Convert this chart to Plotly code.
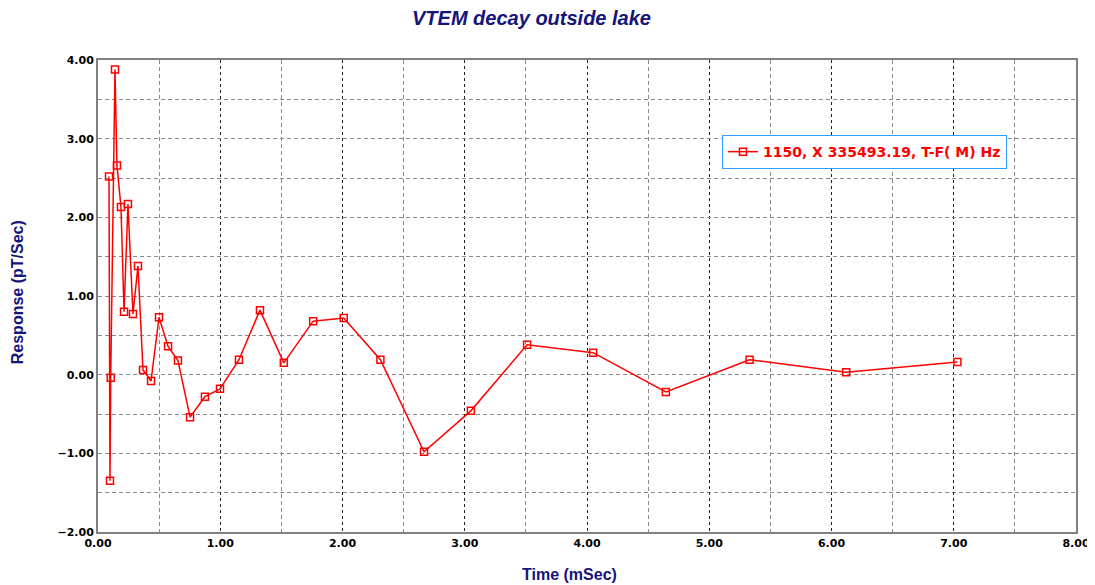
import plotly.graph_objects as go

time_ms = [0.090, 0.098, 0.104, 0.139, 0.155, 0.188, 0.213, 0.245, 0.286, 0.327,
           0.368, 0.434, 0.499, 0.573, 0.654, 0.753, 0.875, 0.998, 1.153, 1.325,
           1.520, 1.760, 2.010, 2.310, 2.667, 3.050, 3.510, 4.050, 4.645, 5.330,
           6.120, 7.030]
response = [2.52, -1.35, -0.04, 3.88, 2.66, 2.13, 0.80, 2.17, 0.77, 1.38,
            0.06, -0.08, 0.73, 0.36, 0.18, -0.54, -0.28, -0.18, 0.19, 0.82,
            0.15, 0.68, 0.72, 0.19, -0.98, -0.46, 0.38, 0.28, -0.22, 0.19,
            0.03, 0.16]
series_name = "1150, X 335493.19, T-F( M) Hz"
title_text = "VTEM decay outside lake"
x_title = "Time (mSec)"
y_title = "Response (pT/Sec)"

navy = "#14147a"
red = "#ff0000"
gray_grid = "#8a8a8a"
dark_grid = "#222222"

fig = go.Figure()
fig.add_trace(go.Scatter(
    x=time_ms, y=response, mode="lines+markers", name=series_name,
    line=dict(color=red, width=1.5),
    marker=dict(symbol="square-open", size=7, color=red, line=dict(width=1.5, color=red)),
))

tickfont = dict(family="DejaVu Sans, Verdana", size=11, color="black", weight="bold")

fig.update_layout(
    width=1087, height=577,
    margin=dict(l=90, r=19, t=52, b=53, autoexpand=False),
    paper_bgcolor="white", plot_bgcolor="white",
    xaxis=dict(range=[0, 8], dtick=1, tick0=0, tickformat=".2f", ticks="",
               automargin=False,
               showline=True, linecolor="#808080", linewidth=2, mirror=True,
               showgrid=True, gridcolor=dark_grid, griddash="3px,3px", gridwidth=1,
               zeroline=False, tickfont=tickfont,
               minor=dict(dtick=0.5, showgrid=True, gridcolor=gray_grid,
                          griddash="4px,3px", gridwidth=1)),
    yaxis=dict(range=[-2, 4], dtick=1, tick0=0, tickformat=".2f", ticks="",
               automargin=False,
               showline=True, linecolor="#808080", linewidth=2, mirror=True,
               showgrid=True, gridcolor=gray_grid, griddash="4px,3px", gridwidth=1,
               zeroline=False, tickfont=tickfont,
               minor=dict(dtick=0.5, showgrid=True, gridcolor=gray_grid,
                          griddash="4px,3px", gridwidth=1)),
    showlegend=True,
    legend=dict(x=0.638, y=0.841, xanchor="left", yanchor="top",
                bgcolor="white", bordercolor="#3399ff", borderwidth=1,
                font=dict(family="DejaVu Sans, Verdana", size=14, color=red, weight="bold")),
    annotations=[
        dict(text="<b><i>" + title_text + "</i></b>", xref="paper", yref="paper",
             x=0.443, y=1.09, xanchor="center", yanchor="middle", showarrow=False,
             font=dict(family="Liberation Sans, Arial", size=20, color=navy)),
        dict(text="<b>" + x_title + "</b>", xref="paper", yref="paper",
             x=0.4826, y=-0.091, xanchor="center", yanchor="middle", showarrow=False,
             font=dict(family="Liberation Sans, Arial", size=16, color=navy)),
        dict(text="<b>" + y_title + "</b>", xref="paper", yref="paper",
             x=-0.0828, y=0.508, xanchor="center", yanchor="middle", showarrow=False,
             textangle=-90,
             font=dict(family="Liberation Sans, Arial", size=16, color=navy)),
    ],
)

fig.write_html("out.html")
